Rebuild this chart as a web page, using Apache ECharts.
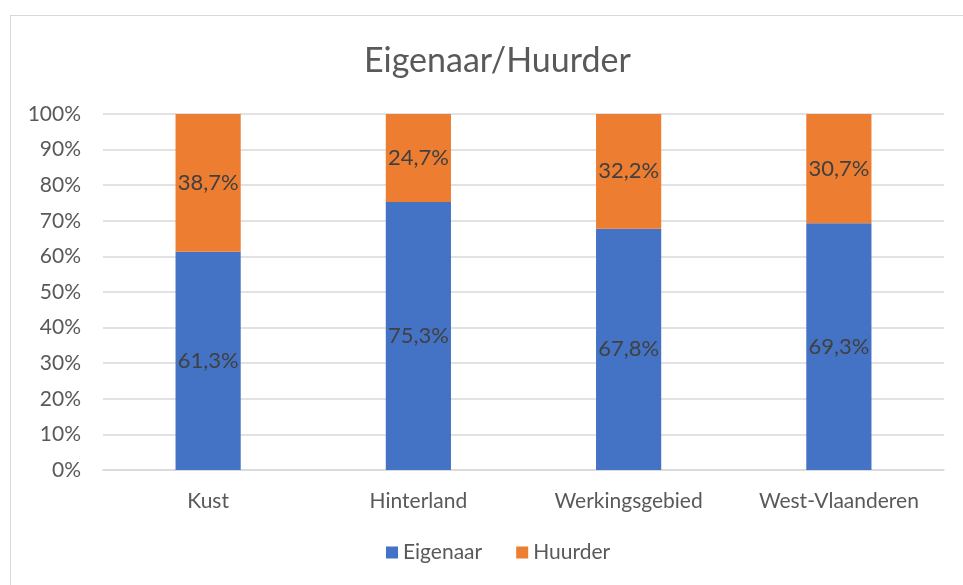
<!DOCTYPE html>
<html>
<head>
<meta charset="utf-8">
<script src="https://cdn.jsdelivr.net/npm/echarts@6/dist/echarts.min.js"></script>
<style>
  html, body { margin: 0; padding: 0; background: #fff; }
  #frame { position: absolute; left: 10px; top: 15px; width: 1000px; height: 600px; border: 1px solid #d9d9d9; }
  #chart { position: absolute; left: 0; top: 0; width: 963px; height: 585px; }
</style>
</head>
<body>
<div id="frame"></div>
<div id="chart"></div>
<script>
var categories = ['Kust', 'Hinterland', 'Werkingsgebied', 'West-Vlaanderen'];
var eigenaar = [61.3, 75.3, 67.8, 69.3];
var huurder = [38.7, 24.7, 32.2, 30.7];

var fontFamily = 'Lato, "Open Sans", sans-serif';

// percentage label with a decimal comma
var pct = function (p) {
    return p.value.toFixed(1).replace('.', ',') + '%';
};

var chart = echarts.init(document.getElementById('chart'));
chart.setOption({
    animation: false,
    textStyle: { fontFamily: fontFamily },
    title: {
        text: 'Eigenaar/Huurder',
        left: 359,
        top: 39,
        textStyle: { fontFamily: fontFamily, fontSize: 34, fontWeight: 'normal', color: '#595959' }
    },
    legend: {
        bottom: 17,
        left: 381,
        itemWidth: 12,
        itemHeight: 12,
        itemGap: 34,
        icon: 'rect',
        textStyle: { fontFamily: fontFamily, fontSize: 21, color: '#595959' },
        data: ['Eigenaar', 'Huurder']
    },
    grid: { left: 103, right: 19, top: 114, bottom: 115 },
    xAxis: {
        type: 'category',
        data: categories,
        axisTick: { show: false },
        axisLine: { lineStyle: { color: '#d9d9d9', width: 1.5 } },
        axisLabel: { fontSize: 21, color: '#595959', margin: 21 }
    },
    yAxis: {
        type: 'value',
        min: 0,
        max: 100,
        interval: 10,
        axisLine: { show: false },
        axisTick: { show: false },
        axisLabel: { fontSize: 21, color: '#595959', margin: 22, formatter: '{value}%' },
        splitLine: { lineStyle: { color: '#d9d9d9', width: 1.5 } }
    },
    series: [
        {
            name: 'Eigenaar',
            type: 'bar',
            stack: 'total',
            barWidth: '31%',
            data: eigenaar,
            itemStyle: { color: '#4472C4' },
            label: { show: true, position: 'inside', formatter: pct, fontSize: 22, color: '#404040' }
        },
        {
            name: 'Huurder',
            type: 'bar',
            stack: 'total',
            data: huurder,
            itemStyle: { color: '#ED7D31' },
            label: { show: true, position: 'inside', formatter: pct, fontSize: 22, color: '#404040' }
        }
    ]
});
</script>
</body>
</html>
